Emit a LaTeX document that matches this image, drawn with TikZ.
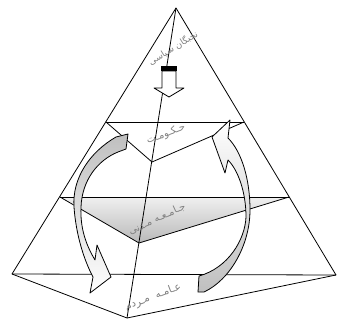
\documentclass[tikz,border=0pt]{standalone}
\usepackage{fontspec}
\newfontfamily\arabicfont[Script=Arabic]{DejaVu Sans}
\TeXXeTstate=1
\begin{document}
\begin{tikzpicture}[x=1pt,y=-1pt,line width=0.8pt,line join=round,
  edgeline/.style={draw=black,line width=0.8pt},
  ribbon/.style={draw=black,line width=0.8pt},
  lbl/.style={font=\arabicfont\fontsize{9}{10}\selectfont,text=black!50,inner sep=0pt}]
\useasboundingbox (0,0) rectangle (337,321);
% key points
\coordinate (A) at (176,8);
\coordinate (BL) at (12,274);
\coordinate (BR) at (336,275);
\coordinate (BF) at (127,318);
\coordinate (ML) at (60,197);
\coordinate (MR) at (289,197);
\coordinate (MF) at (139,243);
\coordinate (TL) at (106,122);
\coordinate (TR) at (244,122);
\coordinate (TF) at (152,162);
% middle section (shaded)
\shade[top color=gray!12,bottom color=gray!55] (ML) -- (MR) -- (MF) -- cycle;
% pyramid
\draw[edgeline] (BL) -- (A) -- (BR);
\draw[edgeline] (A) -- (BF);
\draw[edgeline] (BL) -- (BR);
\draw[edgeline] (BL) -- (BF) -- (BR);
\draw[edgeline] (ML) -- (MR);
\draw[edgeline] (ML) -- (MF) -- (MR);
\draw[edgeline] (TL) -- (TR);
\draw[edgeline] (TL) -- (TF) -- (TR);
% small down arrow at top
\draw[ribbon,fill=white] (162,71) -- (162,88) -- (154,88) -- (169,97) -- (184,88) -- (176,88) -- (176,71) -- cycle;
\fill[black] (161,66) rectangle (177,71);
% left ribbon arrow (top -> bottom)
\draw[ribbon,top color=gray!50,middle color=white,bottom color=white]
  (116,137) .. controls (90,152) and (72,178) .. (74,207)
  .. controls (76,235) and (84,260) .. (93,277)
  -- (90,293) -- (111,277) -- (97,245) -- (95,260)
  .. controls (86,245) and (80,228) .. (81,207)
  .. controls (82,180) and (98,160) .. (118,152)
  -- (126,149) -- (128,134) -- cycle;
% right ribbon arrow (bottom -> top)
\draw[ribbon,top color=white,middle color=white,bottom color=gray!50]
  (230,120) -- (212,137) -- (225,173) -- (228,160)
  .. controls (238,170) and (246,192) .. (246,217)
  .. controls (245,240) and (228,268) .. (199,276)
  -- (198,292) -- (204,292)
  .. controls (230,280) and (250,245) .. (250,210)
  .. controls (250,180) and (242,152) .. (228,138)
  -- cycle;
% labels
\node[lbl,rotate=32] (elite) at (173,48) {\beginR نخبگان سیاسی\endR};
\node[lbl,rotate=21,font=\arabicfont\fontsize{10}{11}\selectfont] (gov) at (166,134) {\beginR حـکـومـت\endR};
\node[lbl,rotate=25,font=\arabicfont\fontsize{10}{11}\selectfont] (civil) at (157,219) {\beginR جـامـعـه مـدنی\endR};
\node[lbl,rotate=21,font=\arabicfont\fontsize{10.5}{11}\selectfont] (mass) at (153,297) {\beginR عـامـه \ مـردم\endR};
\end{tikzpicture}
\end{document}
